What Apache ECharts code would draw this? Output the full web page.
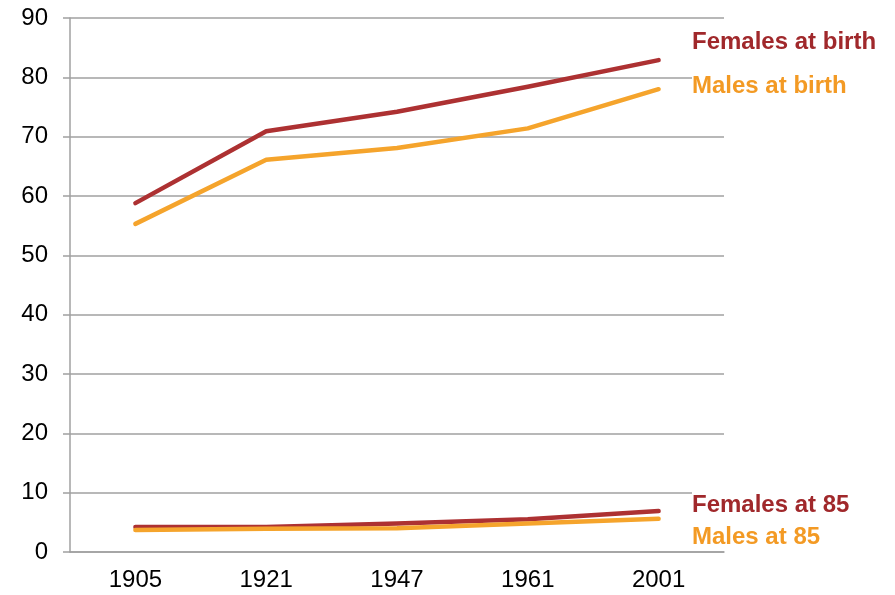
<!DOCTYPE html>
<html>
<head>
<meta charset="utf-8">
<script src="https://cdn.jsdelivr.net/npm/echarts@6/dist/echarts.min.js"></script>
<style>
    html, body { margin: 0; padding: 0; background: #fff; }
    #chart { width: 895px; height: 595px; }
</style>
</head>
<body>
<div id="chart"></div>
<script>
const years = ['1905', '1921', '1947', '1961', '2001'];
const femalesBirth = [58.8, 70.9, 74.2, 78.4, 82.9];
const malesBirth = [55.3, 66.1, 68.1, 71.4, 78.0];
const females85 = [4.2, 4.2, 4.8, 5.5, 6.9];
const males85 = [3.7, 3.9, 4.0, 4.8, 5.6];
const seriesNames = ['Females at birth', 'Males at birth', 'Females at 85', 'Males at 85'];

const RED = '#ad3132';
const ORANGE = '#f5a42c';
const FONT = 'Liberation Sans, Arial, sans-serif';

const makeLine = (name, data, color) => {
    return {
        name: name,
        type: 'line',
        data: data,
        symbol: 'none',
        lineStyle: { color: color, width: 4.5, cap: 'round', join: 'round' },
        z: 3,
    };
};

// labels sit to the right of the plot, white box hides the gridline ends
const makeLabel = (text, y, color) => {
    return {
        type: 'text',
        left: 692,
        top: y,
        z: 10,
        style: {
            text: text,
            fill: color,
            font: 'bold 24px ' + FONT,
            backgroundColor: '#fff',
            padding: [2, 0, 2, 0],
        },
    };
};

const chart = echarts.init(document.getElementById('chart'));
chart.setOption({
    animation: false,
    grid: { left: 70, right: 171, top: 18, bottom: 43 },
    xAxis: {
        type: 'category',
        data: years,
        axisLine: { lineStyle: { color: '#a0a0a0', width: 1.5 } },
        axisTick: { length: 7, lineStyle: { color: '#a0a0a0', width: 1.5 } },
        axisLabel: { color: '#000', fontSize: 24, fontFamily: FONT, margin: 16 },
    },
    yAxis: {
        type: 'value',
        min: 0,
        max: 90,
        interval: 10,
        axisLine: { show: true, lineStyle: { color: '#a0a0a0', width: 1.5 } },
        axisTick: { show: true, length: 7, lineStyle: { color: '#a0a0a0', width: 1.5 } },
        splitLine: { lineStyle: { color: '#a0a0a0', width: 1.5 } },
        axisLabel: { color: '#000', fontSize: 24, fontFamily: FONT, margin: 22 },
    },
    series: [
        makeLine(seriesNames[0], femalesBirth, RED),
        makeLine(seriesNames[1], malesBirth, ORANGE),
        makeLine(seriesNames[2], females85, RED),
        makeLine(seriesNames[3], males85, ORANGE),
    ],
    graphic: [
        makeLabel(seriesNames[0], 28, '#a0282b'),
        makeLabel(seriesNames[1], 72, '#f39a24'),
        makeLabel(seriesNames[2], 491, '#a0282b'),
        makeLabel(seriesNames[3], 523, '#f39a24'),
    ],
});
</script>
</body>
</html>
